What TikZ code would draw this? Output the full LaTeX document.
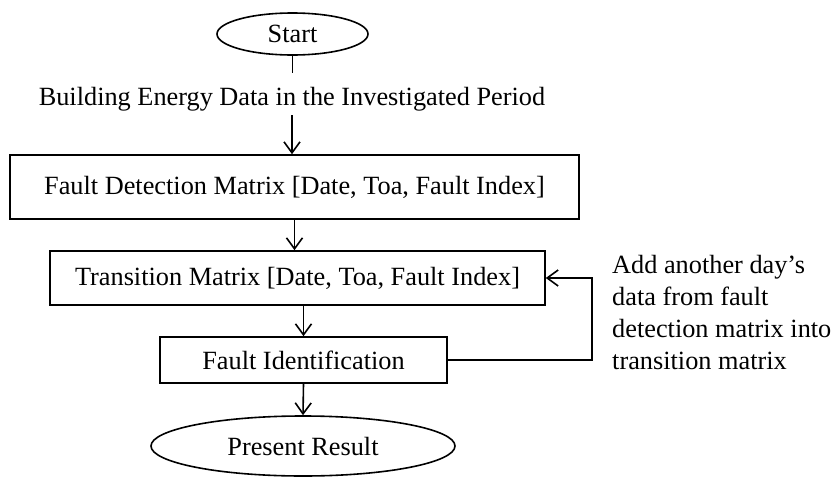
\documentclass[tikz,border=0pt]{standalone}
\usepackage{fontspec}
\setmainfont{Liberation Serif}
\usetikzlibrary{arrows.meta,shapes.geometric,calc}
\begin{document}
\begin{tikzpicture}[x=1pt,y=-1pt,
  every node/.style={font=\fontsize{26.3}{32}\selectfont, inner sep=0pt},
  stepbox/.style={draw, line width=1.6pt, rectangle},
  terminal/.style={draw, line width=1.6pt, ellipse, inner sep=0pt},
  link/.style={line width=1.6pt},
  flow/.style={line width=1.6pt, -{Straight Barb[length=11pt,width=16pt,line width=1.6pt]}}]
\useasboundingbox (0,0) rectangle (836,477);

% process chain
\node[terminal, minimum width=151, minimum height=42] (start) at (292.5,34) {Start};
\coordinate (stubend) at (292.5,73);
\node (data) at (292,99) {Building Energy Data in the Investigated Period};
\node[stepbox, minimum width=569, minimum height=64] (fdm) at (294.5,187)
  {Fault Detection Matrix [Date, Toa, Fault Index]};
\node[stepbox, minimum width=495, minimum height=54] (tm) at (297.5,278)
  {Transition Matrix [Date, Toa, Fault Index]};
\node[stepbox, minimum width=287, minimum height=46] (fi) at (303.5,360)
  {Fault Identification};
\node[terminal, minimum width=304, minimum height=60] (result) at (303,446)
  {Present Result};

% feedback note
\node[anchor=north west, align=left] (note) at (612,255)
  {Add another day’s\\data from fault\\detection matrix into\\transition matrix};
\coordinate (loopx) at (592,0);

% connectors
\draw[link] (start.south) -- (stubend);
\draw[flow, shorten <=4pt] (data.south) -- (data.south |- fdm.north);
\draw[flow] (fdm.south) -- (fdm.south |- tm.north);
\draw[flow] (fi.north |- tm.south) -- (fi.north);
\draw[flow] (fi.south) -- (result.north);
\draw[flow] (fi.east) -- (fi.east -| loopx) |- (tm.east);
\end{tikzpicture}
\end{document}
